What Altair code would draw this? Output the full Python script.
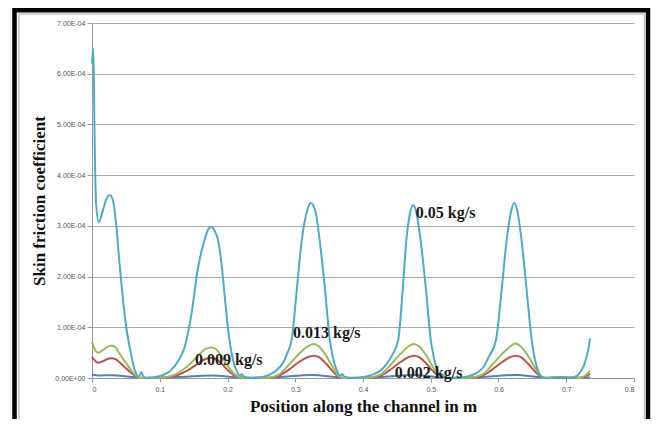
import altair as alt
import pandas as pd

# Skin friction coefficient (values in units of 1e-4) vs position (m)
cyan_x = [0.000, 0.002, 0.004, 0.006, 0.010, 0.016, 0.021, 0.026, 0.031, 0.036, 0.040, 0.045, 0.050, 0.056,
          0.063, 0.068, 0.071, 0.073, 0.075, 0.080, 0.090, 0.100, 0.110, 0.117, 0.127, 0.137, 0.147, 0.156,
          0.166, 0.171, 0.176, 0.181, 0.186, 0.191, 0.196, 0.201, 0.208, 0.215, 0.219, 0.221, 0.223, 0.230,
          0.245, 0.255, 0.263, 0.272, 0.282, 0.288, 0.295, 0.302, 0.309, 0.316, 0.323, 0.330, 0.336, 0.344,
          0.351, 0.356, 0.361, 0.366, 0.369, 0.372, 0.380, 0.395, 0.405, 0.415, 0.425, 0.435, 0.443, 0.452,
          0.4586, 0.464, 0.469, 0.474, 0.479, 0.485, 0.493, 0.500, 0.505, 0.510, 0.514, 0.517, 0.520, 0.527,
          0.545, 0.555, 0.565, 0.572, 0.578, 0.585, 0.5963, 0.6047, 0.612, 0.618, 0.623, 0.628, 0.634, 0.6415,
          0.649, 0.654, 0.659, 0.664, 0.668, 0.690, 0.705, 0.712, 0.718, 0.723, 0.727, 0.730, 0.733, 0.735]
cyan_y = [6.20, 6.50, 4.60, 3.45, 3.07, 3.30, 3.52, 3.61, 3.50, 2.98, 2.35, 1.65, 1.05, 0.58,
          0.16, 0.03, 0.07, 0.12, 0.05, 0.00, 0.01, 0.04, 0.09, 0.16, 0.33, 0.62, 1.28, 2.13,
          2.72, 2.92, 2.98, 2.90, 2.72, 2.27, 1.60, 0.95, 0.36, 0.10, 0.04, 0.08, 0.04, 0.00,
          0.01, 0.03, 0.07, 0.15, 0.30, 0.48, 0.78, 1.70, 2.65, 3.22, 3.45, 3.28, 2.72, 1.74,
          0.75, 0.38, 0.16, 0.04, 0.08, 0.03, 0.00, 0.01, 0.03, 0.07, 0.14, 0.28, 0.45, 0.75,
          1.74, 2.72, 3.22, 3.41, 3.25, 2.72, 1.74, 0.75, 0.38, 0.14, 0.04, 0.08, 0.03, 0.00,
          0.01, 0.03, 0.08, 0.14, 0.22, 0.40, 0.75, 1.74, 2.72, 3.25, 3.45, 3.28, 2.72, 1.74,
          0.75, 0.35, 0.12, 0.02, 0.00, 0.02, 0.00, 0.02, 0.07, 0.16, 0.28, 0.42, 0.60, 0.78]

green_x = [0.000, 0.003, 0.009, 0.016, 0.022, 0.028, 0.035, 0.042, 0.050, 0.058, 0.065, 0.070, 0.090,
           0.110, 0.125, 0.140, 0.155, 0.165, 0.175, 0.182, 0.190, 0.200, 0.210, 0.218, 0.225, 0.260,
           0.275, 0.290, 0.305, 0.318, 0.327, 0.335, 0.345, 0.355, 0.363, 0.370, 0.405, 0.425, 0.440,
           0.455, 0.467, 0.475, 0.483, 0.493, 0.503, 0.512, 0.518, 0.555, 0.575, 0.590, 0.605, 0.617,
           0.625, 0.633, 0.643, 0.653, 0.662, 0.668, 0.700, 0.720, 0.728, 0.735]
green_y = [0.72, 0.60, 0.50, 0.55, 0.61, 0.64, 0.60, 0.45, 0.30, 0.15, 0.04, 0.00, 0.00,
           0.02, 0.08, 0.22, 0.42, 0.55, 0.60, 0.58, 0.45, 0.25, 0.08, 0.01, 0.00, 0.00,
           0.06, 0.25, 0.47, 0.62, 0.67, 0.62, 0.45, 0.22, 0.05, 0.00, 0.00, 0.06, 0.25,
           0.47, 0.62, 0.67, 0.62, 0.45, 0.22, 0.05, 0.00, 0.00, 0.06, 0.25, 0.47, 0.62,
           0.68, 0.62, 0.45, 0.22, 0.05, 0.00, 0.02, 0.00, 0.05, 0.14]

red_x = green_x
red_y = [0.42, 0.36, 0.30, 0.33, 0.37, 0.39, 0.37, 0.29, 0.19, 0.10, 0.03, 0.00, 0.00,
         0.01, 0.05, 0.14, 0.27, 0.36, 0.40, 0.38, 0.30, 0.16, 0.05, 0.01, 0.00, 0.00,
         0.04, 0.16, 0.31, 0.41, 0.44, 0.41, 0.29, 0.14, 0.03, 0.00, 0.00, 0.04, 0.16,
         0.31, 0.41, 0.44, 0.41, 0.29, 0.14, 0.03, 0.00, 0.00, 0.04, 0.16, 0.31, 0.41,
         0.44, 0.41, 0.29, 0.14, 0.03, 0.00, 0.01, 0.00, 0.03, 0.08]

blue_x = [0.000, 0.010, 0.030, 0.060, 0.080, 0.130, 0.176, 0.220, 0.260, 0.325, 0.370, 0.410,
          0.475, 0.520, 0.560, 0.625, 0.670, 0.735]
blue_y = [0.07, 0.05, 0.055, 0.02, 0.005, 0.02, 0.05, 0.01, 0.005, 0.06, 0.005, 0.005,
          0.06, 0.005, 0.005, 0.06, 0.005, 0.01]

series_names = ["0.002 kg/s", "0.009 kg/s", "0.013 kg/s", "0.05 kg/s"]
series_colors = ["#4f81bd", "#c0504d", "#9bbb59", "#4bacc6"]
series_data = [(blue_x, blue_y), (red_x, red_y), (green_x, green_y), (cyan_x, cyan_y)]

label_text = ["0.05 kg/s", "0.013 kg/s", "0.009 kg/s", "0.002 kg/s"]
label_x = [0.478, 0.2967, 0.152, 0.447]
label_y = [3.25, 0.89, 0.355, 0.10]

y_ticks = [0, 1e-4, 2e-4, 3e-4, 4e-4, 5e-4, 6e-4, 7e-4]
x_ticks = [0, 0.1, 0.2, 0.3, 0.4, 0.5, 0.6, 0.7, 0.8]

rows = []
for name, (xs, ys) in zip(series_names, series_data):
    for xv, yv in zip(xs, ys):
        rows.append({"series": name, "x": xv, "y": yv * 1e-4})
df = pd.DataFrame(rows)

labels_df = pd.DataFrame({"text": label_text, "x": label_x, "y": [v * 1e-4 for v in label_y]})

W, H = 542, 355

xscale = alt.Scale(domain=[0, 0.8], nice=False, zero=False)
yscale = alt.Scale(domain=[0, 7e-4], nice=False)

x_axis = alt.Axis(values=x_ticks, grid=False, labelFontSize=7, labelColor="#555555",
                  labelFont="Liberation Sans", tickSize=4, tickColor="#999999",
                  domainColor="#999999", labelPadding=3,
                  labelExpr="datum.value == 0 ? '0' : format(datum.value, '.1f')",
                  title="Position along the channel in m", titleFont="Liberation Serif",
                  titleFontSize=17, titleFontWeight="bold", titleColor="#111111", titlePadding=6)
y_axis = alt.Axis(values=y_ticks, grid=True, gridColor="#a8a8a8", gridWidth=1,
                  labelFontSize=7, labelColor="#555555", labelFont="Liberation Sans",
                  tickSize=5, tickColor="#999999", domainColor="#999999", labelPadding=2,
                  labelExpr="datum.value == 0 ? '0.00E+00' : replace(format(datum.value, '.2e'), 'e-', 'E-0')",
                  title="Skin friction coefficient", titleFont="Liberation Serif",
                  titleFontSize=17, titleFontWeight="bold", titleColor="#111111", titlePadding=6)

frame_df = pd.DataFrame({"k": [0]})
frame = alt.Chart(frame_df).mark_rect(filled=False, stroke="#000000", strokeWidth=4.5).encode(
    x=alt.value(-77.5), x2=alt.value(556), y=alt.value(-12.7), y2=alt.value(430))
inner = alt.Chart(frame_df).mark_rect(filled=False, stroke="#c4c4c4", strokeWidth=1.5).encode(
    x=alt.value(-73), x2=alt.value(552.5), y=alt.value(-9), y2=alt.value(430))

layers = [frame, inner]
for name, color in zip(series_names, series_colors):
    layers.append(
        alt.Chart(df).transform_filter(alt.datum.series == name)
        .mark_line(color=color, strokeWidth=2, interpolate="monotone")
        .encode(
            x=alt.X("x:Q", scale=xscale, axis=x_axis),
            y=alt.Y("y:Q", scale=yscale, axis=y_axis),
            order="x:Q",
        )
    )

text = alt.Chart(labels_df).mark_text(align="left", baseline="middle", font="Liberation Serif",
                                      fontSize=16, fontWeight="bold", color="#1a1a1a").encode(
    x=alt.X("x:Q", scale=xscale, axis=x_axis),
    y=alt.Y("y:Q", scale=yscale, axis=y_axis),
    text="text:N")
layers.append(text)

chart = alt.layer(*layers).properties(
    width=W, height=H,
    background="white",
    autosize=alt.AutoSizeParams(type="none"),
    padding={"left": 84, "top": 15, "right": 18, "bottom": 41},
).configure_view(strokeWidth=0)

chart.save("out.html", embed_options={"renderer": "svg", "actions": False})
